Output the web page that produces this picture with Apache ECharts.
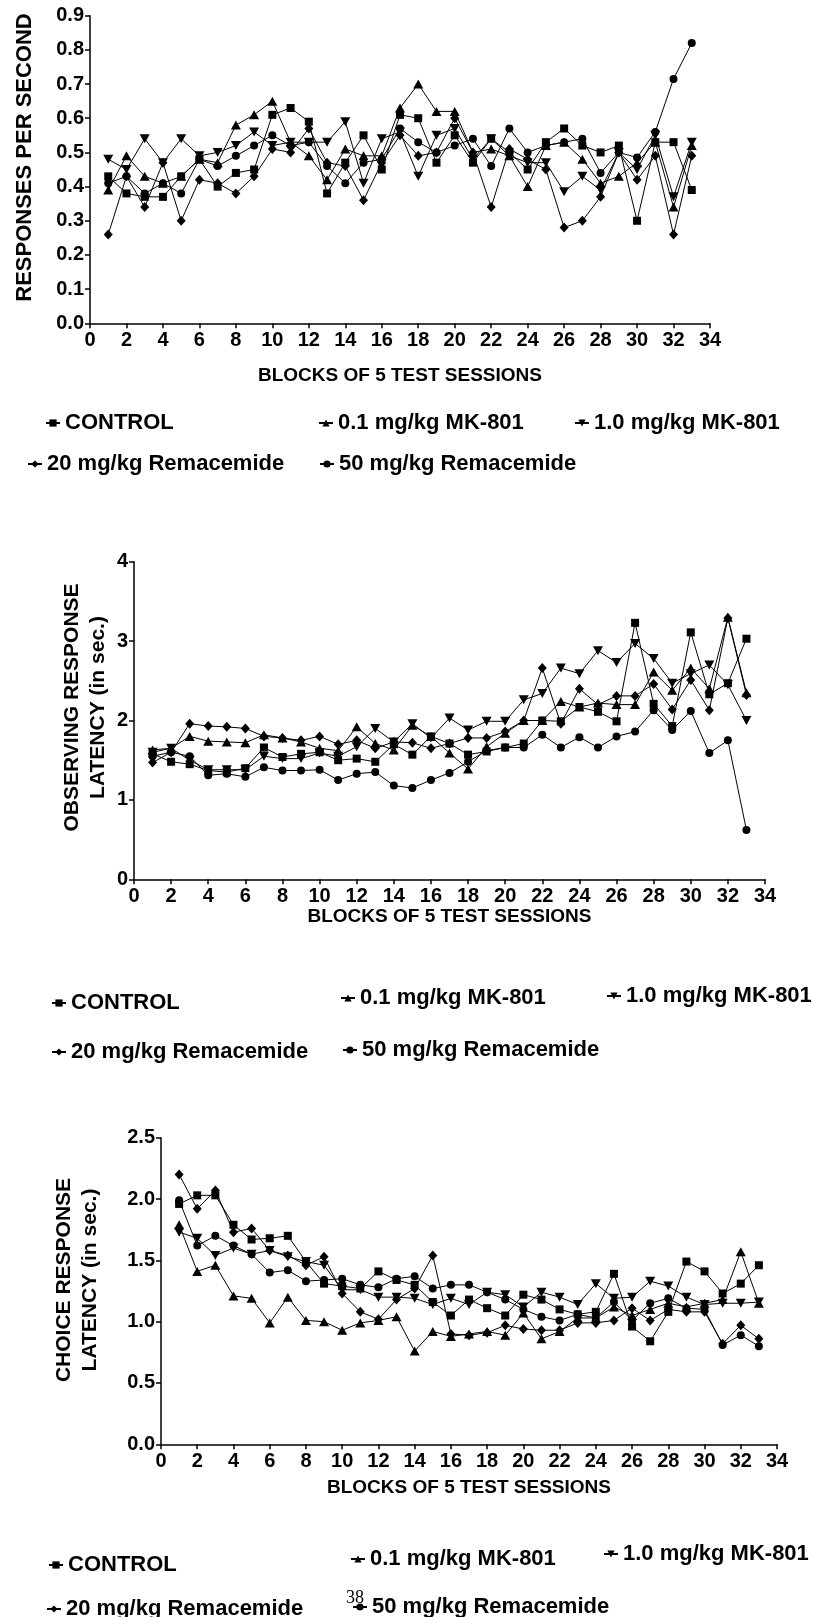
<!DOCTYPE html>
<html><head><meta charset="utf-8">
<script src="https://cdn.jsdelivr.net/npm/echarts@6/dist/echarts.min.js"></script>
<style>html,body{margin:0;padding:0;background:#fff}#c{width:821px;height:1617px}</style>
</head><body><div id="c"></div>
<script>
const seriesNames = ['CONTROL','0.1 mg/kg MK-801','1.0 mg/kg MK-801','20 mg/kg Remacemide','50 mg/kg Remacemide'];
const blocks = [1,2,3,4,5,6,7,8,9,10,11,12,13,14,15,16,17,18,19,20,21,22,23,24,25,26,27,28,29,30,31,32,33];

// Panel 1: responses per second
const rpsControl = [0.43,0.38,0.37,0.37,0.43,0.48,0.40,0.44,0.45,0.61,0.63,0.59,0.38,0.47,0.55,0.45,0.61,0.60,0.47,0.55,0.47,0.54,0.50,0.45,0.53,0.57,0.52,0.50,0.52,0.30,0.53,0.53,0.39];
const rpsMk01 = [0.39,0.49,0.43,0.41,0.43,0.48,0.47,0.58,0.61,0.65,0.53,0.49,0.42,0.51,0.49,0.49,0.63,0.70,0.62,0.62,0.50,0.51,0.49,0.40,0.52,0.53,0.48,0.41,0.43,0.47,0.53,0.34,0.52];
const rpsMk10 = [0.48,0.45,0.54,0.47,0.54,0.49,0.50,0.52,0.56,0.52,0.53,0.53,0.53,0.59,0.41,0.54,0.56,0.43,0.55,0.57,0.48,0.54,0.49,0.47,0.47,0.385,0.43,0.39,0.50,0.45,0.55,0.37,0.53];
const rpsRem20 = [0.26,0.43,0.34,0.47,0.30,0.42,0.41,0.38,0.43,0.51,0.50,0.57,0.47,0.46,0.36,0.47,0.55,0.49,0.50,0.60,0.50,0.34,0.51,0.48,0.45,0.28,0.30,0.37,0.50,0.42,0.49,0.26,0.49];
const rpsRem50 = [0.41,0.43,0.38,0.41,0.38,0.48,0.46,0.49,0.52,0.55,0.52,0.53,0.46,0.41,0.47,0.48,0.57,0.53,0.50,0.52,0.54,0.46,0.57,0.50,0.52,0.53,0.54,0.44,0.50,0.485,0.56,0.715,0.82];

// Panel 2: observing response latency (sec)
const obsControl = [1.58,1.48,1.45,1.37,1.35,1.40,1.66,1.54,1.58,1.60,1.50,1.52,1.48,1.70,1.57,1.80,1.71,1.57,1.61,1.66,1.71,2.00,1.99,2.17,2.11,1.99,3.23,2.21,1.93,3.11,2.33,2.47,3.03];
const obsMk01 = [1.63,1.65,1.80,1.74,1.73,1.72,1.82,1.78,1.73,1.65,1.62,1.92,1.71,1.63,1.94,1.80,1.59,1.39,1.67,1.84,2.00,2.00,2.24,2.17,2.22,2.20,2.20,2.61,2.38,2.66,2.40,3.30,2.35];
const obsMk10 = [1.60,1.65,1.50,1.38,1.38,1.38,1.55,1.52,1.52,1.59,1.55,1.67,1.90,1.73,1.96,1.78,2.03,1.88,1.99,1.99,2.26,2.34,2.66,2.59,2.88,2.73,2.97,2.78,2.47,2.59,2.70,2.45,2.00];
const obsRem20 = [1.47,1.60,1.96,1.93,1.92,1.90,1.80,1.78,1.75,1.80,1.70,1.75,1.65,1.73,1.72,1.65,1.71,1.78,1.78,1.86,2.00,2.66,1.96,2.40,2.20,2.31,2.31,2.46,2.14,2.51,2.13,3.29,2.32];
const obsRem50 = [1.55,1.60,1.55,1.31,1.33,1.29,1.41,1.37,1.37,1.38,1.25,1.33,1.35,1.18,1.15,1.25,1.34,1.48,1.62,1.66,1.66,1.82,1.66,1.79,1.66,1.80,1.86,2.13,1.88,2.12,1.59,1.75,0.62];

// Panel 3: choice response latency (sec)
const chControl = [1.96,2.03,2.03,1.79,1.67,1.68,1.70,1.49,1.31,1.29,1.27,1.41,1.34,1.30,1.16,1.05,1.18,1.11,1.05,1.22,1.18,1.10,1.06,1.08,1.39,0.96,0.84,1.08,1.49,1.41,1.23,1.31,1.46];
const chMk01 = [1.79,1.41,1.46,1.21,1.19,0.99,1.20,1.01,1.00,0.93,0.99,1.01,1.04,0.76,0.92,0.88,0.90,0.92,0.89,1.07,0.86,0.92,1.03,1.03,1.12,1.05,1.10,1.15,1.12,1.15,1.18,1.57,1.15];
const chMk10 = [1.73,1.68,1.54,1.60,1.55,1.58,1.53,1.49,1.46,1.26,1.26,1.20,1.20,1.19,1.14,1.19,1.14,1.24,1.22,1.12,1.24,1.20,1.14,1.31,1.19,1.20,1.33,1.29,1.20,1.14,1.15,1.15,1.16];
const chRem20 = [2.20,1.92,2.07,1.73,1.76,1.58,1.54,1.46,1.53,1.23,1.08,1.02,1.18,1.27,1.54,0.90,0.89,0.91,0.97,0.94,0.93,0.93,0.99,0.99,1.01,1.11,1.01,1.10,1.08,1.08,0.82,0.97,0.86];
const chRem50 = [1.99,1.62,1.70,1.62,1.55,1.40,1.42,1.33,1.34,1.35,1.30,1.28,1.35,1.37,1.27,1.30,1.30,1.24,1.18,1.10,1.04,1.01,1.06,1.03,1.16,1.01,1.15,1.19,1.11,1.10,0.81,0.89,0.80];

const xTitle = 'BLOCKS OF 5 TEST SESSIONS';
const yTitles = ['RESPONSES PER SECOND', 'OBSERVING RESPONSE\nLATENCY (in sec.)', 'CHOICE RESPONSE\nLATENCY (in sec.)'];
const pageNumber = '38';

const panels = [
  [rpsControl, rpsMk01, rpsMk10, rpsRem20, rpsRem50],
  [obsControl, obsMk01, obsMk10, obsRem20, obsRem50],
  [chControl, chMk01, chMk10, chRem20, chRem50]
];

const FONT = '"Liberation Sans", Arial, sans-serif';
const symbols = ['rect', 'triangle', 'path://M0,0L10,0L5,9Z', 'diamond', 'circle'];
const symbolSizes = [8, [10, 9], [10, 9], [9, 10], 8];

const grids = [
  {left: 90, top: 15.7, width: 620, height: 307.6},
  {left: 134, top: 561.7, width: 631, height: 317.6},
  {left: 161, top: 1137.7, width: 616, height: 306.6}
];
const yCfg = [
  {max: 0.9, interval: 0.1, dec: 1, gap: 52, pad: [0,0,0,24], fs: 22},
  {max: 4, interval: 1, dec: 0, gap: 23, pad: [0,0,0,26], fs: 21},
  {max: 2.5, interval: 0.5, dec: 1, gap: 58, pad: [0,0,0,22], fs: 21}
];
const xGaps = [43, 28, 34];

const axisLine = {show: true, onZero: false, lineStyle: {color: '#000', width: 1.5}};
const labelStyle = {color: '#000', fontFamily: FONT, fontWeight: 'bold', fontSize: 20};

const xAxis = grids.map((g, i) => ({
  gridIndex: i, type: 'value', min: 0, max: 34, interval: 2,
  axisLine: axisLine,
  axisTick: {show: true, length: 5, lineStyle: {color: '#000', width: 1.5}},
  axisLabel: Object.assign({margin: 7}, labelStyle),
  splitLine: {show: false},
  name: xTitle, nameLocation: 'middle', nameGap: xGaps[i], nameMoveOverlap: false,
  nameTextStyle: {color: '#000', fontFamily: FONT, fontWeight: 'bold', fontSize: 19}
}));

const yAxis = grids.map((g, i) => ({
  gridIndex: i, type: 'value', min: 0, max: yCfg[i].max, interval: yCfg[i].interval,
  axisLine: axisLine,
  axisTick: {show: true, length: 5, lineStyle: {color: '#000', width: 1.5}},
  axisLabel: Object.assign({margin: 6, formatter: v => v.toFixed(yCfg[i].dec)}, labelStyle),
  splitLine: {show: false},
  name: yTitles[i], nameLocation: 'middle', nameRotate: 90, nameGap: yCfg[i].gap, nameMoveOverlap: false,
  nameTextStyle: {color: '#000', fontFamily: FONT, fontWeight: 'bold', fontSize: yCfg[i].fs, lineHeight: 26, padding: yCfg[i].pad}
}));

const series = [];
panels.forEach((vals, p) => {
  vals.forEach((arr, k) => {
    series.push({
      name: seriesNames[k], type: 'line', xAxisIndex: p, yAxisIndex: p,
      data: blocks.map((b, j) => [b, arr[j]]),
      symbol: symbols[k], symbolSize: symbolSizes[k], showAllSymbol: true,
      lineStyle: {color: '#000', width: 1},
      itemStyle: {color: '#000', borderColor: '#000', borderWidth: 0},
      emphasis: {disabled: true}, animation: false, z: 2 + k
    });
  });
});

// legend item placement: [seriesIndex, symbolCenterX, centerY]
const legendPos = [
  [[0, 52, 423], [1, 325, 423], [2, 581, 423], [3, 34, 464], [4, 326, 464]],
  [[0, 58, 1003], [1, 347, 998], [2, 613, 996], [3, 58, 1052], [4, 349, 1050]],
  [[0, 55, 1565], [1, 357, 1559], [2, 610, 1554], [3, 53, 1609], [4, 359, 1607]]
];
const legends = [];
legendPos.forEach(row => row.forEach(([k, cx, cy]) => {
  legends.push({
    data: [seriesNames[k]], left: cx - 7, top: cy - 11, padding: 0, orient: 'horizontal',
    itemWidth: 14, itemHeight: 9, itemGap: 0, selectedMode: false,
    textStyle: {color: '#000', fontFamily: FONT, fontWeight: 'bold', fontSize: 22}
  });
}));

const chart = echarts.init(document.getElementById('c'), null, {renderer: 'canvas', width: 821, height: 1617});
chart.setOption({
  backgroundColor: '#fff',
  animation: false,
  grid: grids,
  xAxis: xAxis,
  yAxis: yAxis,
  legend: legends,
  series: series,
  graphic: [{
    type: 'text', left: 346, top: 1589, z: 100,
    style: {text: pageNumber, fill: '#000', font: '18px "Liberation Serif", serif'}
  }]
});
</script></body></html>
